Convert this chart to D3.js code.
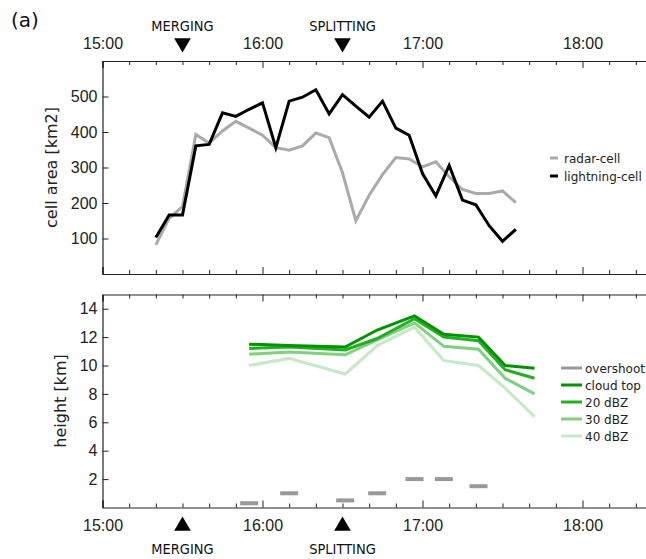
<!DOCTYPE html>
<html>
<head>
<meta charset="utf-8">
<script src="https://cdn.jsdelivr.net/npm/d3@7"></script>
<style>
  body { margin: 0; background: #fff; }
  svg { display: block; font-family: "DejaVu Sans", sans-serif; }
  .tick text { font-size: 16px; fill: #222; }
  .domain { stroke: #222; }
  .tick line { stroke: #222; }
</style>
</head>
<body>
<svg id="chart" width="646" height="559"></svg>
<script>
// minutes after 15:00
const cellTimes = [20, 25, 30, 35, 40, 45, 50, 55, 60, 65, 70, 75, 80, 85, 90, 95, 100, 105, 110, 115, 120, 125, 130, 135, 140, 145, 150, 155];
const radarCell = [82, 157, 190, 393, 369, 403, 430, 411, 391, 356, 349, 361, 397, 384, 285, 150, 222, 280, 328, 324, 302, 316, 274, 238, 227, 227, 234, 201];
const lightningCell = [103, 166, 166, 361, 365, 454, 444, 464, 482, 356, 487, 498, 519, 451, 505, 473, 442, 487, 411, 391, 283, 220, 306, 208, 195, 136, 92, 126];

const radarTimes = [55, 70, 91, 103, 117, 128, 141, 151, 162];
const cloudTop = [11.5, 11.4, 11.3, 12.5, 13.5, 12.2, 12.0, 10.0, 9.8];
const dbz20 = [11.2, 11.3, 11.1, 11.9, 13.3, 12.0, 11.75, 9.7, 9.1];
const dbz30 = [10.8, 10.95, 10.75, 11.8, 13.0, 11.35, 11.15, 9.1, 8.0];
const dbz40 = [10.0, 10.5, 9.4, 11.4, 12.7, 10.35, 10.0, 8.4, 6.4];

const overshootTimes = [55, 70, 91, 103, 117, 128, 141];
const overshoot = [0.3, 1.0, 0.5, 1.0, 2.0, 2.0, 1.5];

const hourTicks = [0, 60, 120, 180];
const hourLabels = ['15:00', '16:00', '17:00', '18:00'];
const areaTicks = [100, 200, 300, 400, 500];
const heightTicks = [2, 4, 6, 8, 10, 12, 14];

const events = [{ t: 30, name: 'MERGING' }, { t: 90, name: 'SPLITTING' }];

const svg = d3.select('#chart');

const x = d3.scaleLinear().domain([0, 210]).range([102.5, 662.5]);
const yTop = d3.scaleLinear().domain([0, 600]).range([274, 61]);
const yBot = d3.scaleLinear().domain([0, 15]).range([507.5, 294.5]);

const minorTicks = d3.range(0, 211, 10).filter(d => d % 60 !== 0);

function frame(y, showTop, showBottom, yTickVals) {
  const g = svg.append('g');
  const [y0, y1] = y.range();
  // inward ticks, top and bottom spines
  g.append('g').attr('transform', `translate(0,${y0})`)
    .call(d3.axisBottom(x).tickValues(hourTicks).tickSize(-7).tickPadding(12)
      .tickFormat((d, i) => showBottom ? hourLabels[i] : ''));
  g.append('g').attr('transform', `translate(0,${y0})`)
    .call(d3.axisBottom(x).tickValues(minorTicks).tickSize(-4).tickFormat(''))
    .select('.domain').remove();
  g.append('g').attr('transform', `translate(0,${y1})`)
    .call(d3.axisTop(x).tickValues(hourTicks).tickSize(-7).tickPadding(12)
      .tickFormat((d, i) => showTop ? hourLabels[i] : ''));
  g.append('g').attr('transform', `translate(0,${y1})`)
    .call(d3.axisTop(x).tickValues(minorTicks).tickSize(-4).tickFormat(''))
    .select('.domain').remove();
  g.append('g').attr('transform', `translate(${x(0)},0)`)
    .call(d3.axisLeft(y).tickValues(yTickVals).tickSize(-6).tickPadding(5).tickSizeOuter(0));
  g.selectAll('.domain').attr('stroke-width', 1.2);
  return g;
}

frame(yTop, true, false, areaTicks);
frame(yBot, false, true, heightTicks);

// top panel lines
const lineTop = d3.line().x((d, i) => x(cellTimes[i])).y(d => yTop(d));
svg.append('path').datum(radarCell).attr('d', lineTop)
  .attr('fill', 'none').attr('stroke', '#aaaaaa').attr('stroke-width', 3);
svg.append('path').datum(lightningCell).attr('d', lineTop)
  .attr('fill', 'none').attr('stroke', '#000').attr('stroke-width', 3);

// bottom panel lines
const greens = [
  { vals: dbz40, color: '#c6e9c6', label: '40 dBZ' },
  { vals: dbz30, color: '#7fd07f', label: '30 dBZ' },
  { vals: dbz20, color: '#22b022', label: '20 dBZ' },
  { vals: cloudTop, color: '#009400', label: 'cloud top' }
];
const lineBot = d3.line().x((d, i) => x(radarTimes[i])).y(d => yBot(d));
greens.forEach(s => {
  svg.append('path').datum(s.vals).attr('d', lineBot)
    .attr('fill', 'none').attr('stroke', s.color).attr('stroke-width', 3);
});

svg.append('g').selectAll('line').data(overshoot).join('line')
  .attr('x1', (d, i) => x(overshootTimes[i]) - 9)
  .attr('x2', (d, i) => x(overshootTimes[i]) + 9)
  .attr('y1', d => yBot(d)).attr('y2', d => yBot(d))
  .attr('stroke', '#999').attr('stroke-width', 4);

// legends
const legTop = svg.append('g');
[{ label: 'radar-cell', color: '#aaaaaa' }, { label: 'lightning-cell', color: '#000' }].forEach((s, i) => {
  const yy = 158 + i * 18;
  legTop.append('line').attr('x1', 550).attr('x2', 558).attr('y1', yy).attr('y2', yy)
    .attr('stroke', s.color).attr('stroke-width', 3);
  legTop.append('text').attr('x', 564).attr('y', yy + 4.5).attr('font-size', 12).attr('fill', '#222').text(s.label);
});

const legBot = svg.append('g');
[{ label: 'overshoot', color: '#999' }].concat(greens.slice().reverse()).forEach((s, i) => {
  const yy = 368 + i * 17;
  legBot.append('line').attr('x1', 561).attr('x2', 582).attr('y1', yy).attr('y2', yy)
    .attr('stroke', s.color).attr('stroke-width', 3);
  legBot.append('text').attr('x', 585).attr('y', yy + 4.5).attr('font-size', 12).attr('fill', '#222').text(s.label);
});

// axis titles
svg.append('text').attr('transform', `translate(57,${(yTop(600) + yTop(0)) / 2}) rotate(-90)`)
  .attr('text-anchor', 'middle').attr('font-size', 16).attr('fill', '#222').text('cell area [km2]');
svg.append('text').attr('transform', `translate(66,${(yBot(15) + yBot(0)) / 2}) rotate(-90)`)
  .attr('text-anchor', 'middle').attr('font-size', 16).attr('fill', '#222').text('height [km]');

// event markers
const tri = d3.symbol().type(d3.symbolTriangle).size(120);
events.forEach(e => {
  svg.append('path').attr('d', tri()).attr('transform', `translate(${x(e.t)},43) rotate(180)`).attr('fill', '#000');
  svg.append('text').attr('x', x(e.t)).attr('y', 31).attr('text-anchor', 'middle')
    .attr('font-family', '"DejaVu Sans Condensed", "DejaVu Sans", sans-serif').attr('font-size', 14.5).attr('fill', '#111').text(e.name);
  svg.append('path').attr('d', tri()).attr('transform', `translate(${x(e.t)},526)`).attr('fill', '#000');
  svg.append('text').attr('x', x(e.t)).attr('y', 554).attr('text-anchor', 'middle')
    .attr('font-family', '"DejaVu Sans Condensed", "DejaVu Sans", sans-serif').attr('font-size', 14.5).attr('fill', '#111').text(e.name);
});

svg.append('text').attr('x', 11).attr('y', 27).attr('font-size', 20).attr('fill', '#111').text('(a)');
</script>
</body>
</html>
